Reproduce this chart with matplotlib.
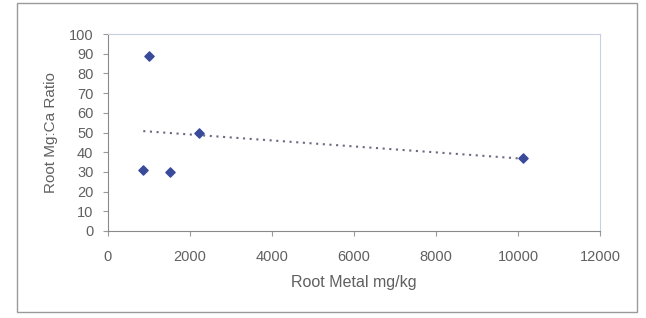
import numpy as np
import matplotlib
matplotlib.use("Agg")
import matplotlib.pyplot as plt
from matplotlib.patches import Rectangle

root_metal = [860, 1010, 1500, 2210, 10130]
mg_ca_ratio = [30.8, 88.8, 29.8, 49.6, 37.3]
x_ticks = [0, 2000, 4000, 6000, 8000, 10000, 12000]
y_ticks = [0, 10, 20, 30, 40, 50, 60, 70, 80, 90, 100]

plt.rcParams['font.family'] = ['Liberation Sans', 'DejaVu Sans']
fig = plt.figure(figsize=(6.46, 3.18), dpi=100)
W, H = 646, 318
# outer chart border
fig.patches.append(Rectangle((17 / W, 1 - 312 / H), (637 - 17) / W, (312 - 3) / H,
                             transform=fig.transFigure, fill=False,
                             edgecolor='#9a9a9a', linewidth=1.0))
ax = fig.add_axes([108 / W, 1 - 231 / H, (600 - 108) / W, (231 - 34) / H])

xs = np.array(root_metal)
ys = np.array(mg_ca_ratio)
coef = np.polyfit(xs, ys, 1)
xl = np.array([xs.min(), xs.max()])
ax.plot(xl, np.polyval(coef, xl), linestyle=(0, (1, 2.2)), color='#6a6a80', linewidth=1.5)
ax.scatter(xs, ys, marker='D', s=22, color='#3a4a9a', zorder=3)

ax.set_xlim(0, 12000)
ax.set_ylim(0, 100)
ax.set_xticks(x_ticks)
ax.set_yticks(y_ticks)
ax.tick_params(colors='#9a9a9a', labelcolor='#606060', labelsize=10.5, length=3.5, width=0.8)
ax.tick_params(axis='x', pad=10)
ax.tick_params(axis='y', pad=7)
for s in ['left', 'bottom']:
    ax.spines[s].set_color('#8a8a8a')
for s in ['top', 'right']:
    ax.spines[s].set_color('#c8d0e0')
ax.set_xlabel('Root Metal mg/kg', color='#606060', fontsize=11.5, labelpad=8)
ax.set_ylabel('Root Mg:Ca Ratio', color='#606060', fontsize=11, labelpad=8)

fig.savefig('out.png', dpi=100)
